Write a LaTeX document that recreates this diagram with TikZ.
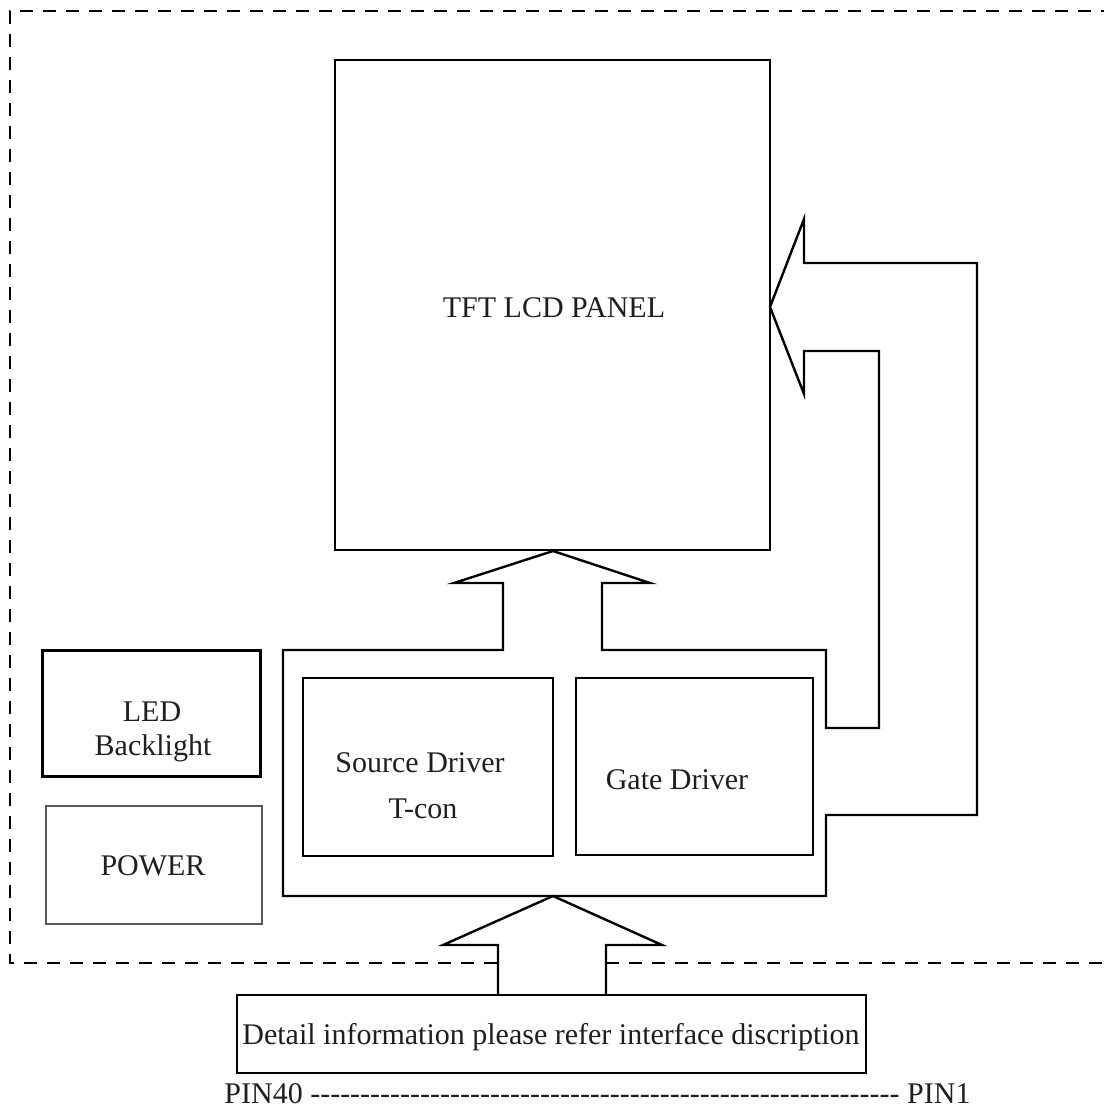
\documentclass[tikz,border=0pt]{standalone}
\usepackage{fontspec}
\setmainfont{Liberation Serif}
\begin{document}
\begin{tikzpicture}[x=1pt,y=-1pt,
  every node/.style={font=\fontsize{30}{34}\selectfont, text=black!88},
  label/.style={anchor=base, inner sep=0pt},
  box/.style={draw, line width=2.4pt, inner sep=0pt},
  thickbox/.style={draw, line width=3pt, inner sep=0pt},
  thinbox/.style={draw=black!65, line width=1.3pt, inner sep=0pt},
  wire/.style={line width=2.4pt, line join=miter},
  border/.style={line width=2.6pt, dash pattern=on 13pt off 10pt}]
\useasboundingbox (0,0) rectangle (1104,1109);
% dashed module border
\draw[border] (497,963) -- (10,963) -- (10,11) -- (1104,11);
\draw[border] (606,963) -- (1104,963);
% panel
\node[box, minimum width=435pt, minimum height=490pt] (panel) at (552.5,305) {};
\node[label] (paneltxt) at (554,317) {TFT LCD PANEL};
% driver boards
\node[box, minimum width=250pt, minimum height=178pt] (src) at (428,767) {};
\node[label] (srctxt1) at (420,772) {Source Driver};
\node[label] (srctxt2) at (423,818) {T-con};
\node[box, minimum width=237pt, minimum height=177pt] (gate) at (694.5,766.5) {};
\node[label] (gatetxt) at (677,789) {Gate Driver};
% LED / POWER
\node[thickbox, minimum width=218pt, minimum height=126pt] (led) at (151,713) {};
\node[label] (ledtxt1) at (152,721) {LED};
\node[label] (ledtxt2) at (153,755) {Backlight};
\node[thinbox, minimum width=216pt, minimum height=118pt] (power) at (154,865) {};
\node[label] (powertxt) at (153,875) {POWER};
% driver frame with arrows to panel
\draw[wire] (503,650) -- (283,650) -- (283,896) -- (826,896) -- (826,815)
  -- (977,815) -- (977,263) -- (804,263) -- (804,219) -- (770,307)
  -- (804,394) -- (804,351) -- (879,351) -- (879,728) -- (826,728)
  -- (826,650) -- (602,650) -- (602,583) -- (650,583) -- (553,551)
  -- (454,583) -- (503,583) -- cycle;
% interface
\node[box, minimum width=629pt, minimum height=78pt] (iface) at (551.5,1034) {};
\node[label] (ifacetxt) at (551,1044) {Detail information please refer interface discription};
\coordinate (inL) at (498,995);
\coordinate (inR) at (606,995);
\draw[wire] (inL) -- (498,945) -- (443,945) -- (553,896) -- (662,945) -- (606,945) -- (inR);
\node[label, text depth=0pt] (pins) at (597.5,1103) {PIN40 \foreach \i in {1,...,59}{-\kern0pt} PIN1};
\end{tikzpicture}
\end{document}
